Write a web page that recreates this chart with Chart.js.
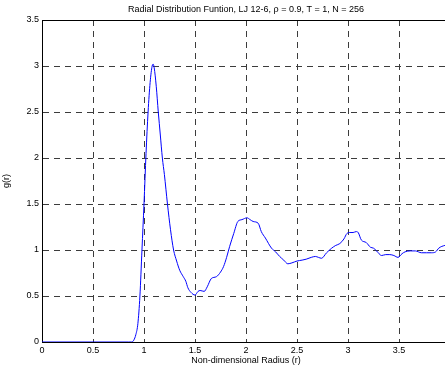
<!DOCTYPE html>
<html>
<head>
<meta charset="utf-8">
<script src="https://cdn.jsdelivr.net/npm/chart.js@4/dist/chart.umd.min.js"></script>
<style>
  html, body { margin: 0; padding: 0; background: #fff; overflow: hidden; }
  #wrap { width: 445px; height: 369px; overflow: hidden; }
</style>
</head>
<body>
<div id="wrap"><canvas id="rdf" width="450" height="369"></canvas></div>
<script>
const radius = [
  0, 0.85, 0.88, 0.90, 0.92, 0.94, 0.96, 0.98, 1.00, 1.02, 1.04, 1.06, 1.08, 1.09,
  1.10, 1.12, 1.14, 1.16, 1.18, 1.20, 1.23, 1.26, 1.29, 1.32, 1.35, 1.385, 1.41,
  1.43, 1.46, 1.50, 1.53, 1.55, 1.59, 1.62, 1.66, 1.71, 1.75, 1.78, 1.81, 1.84,
  1.88, 1.92, 1.96, 2.01, 2.04, 2.07, 2.12, 2.15, 2.19, 2.25, 2.29, 2.33, 2.37,
  2.41, 2.45, 2.50, 2.55, 2.59, 2.64, 2.68, 2.71, 2.74, 2.79, 2.84, 2.88, 2.92,
  2.96, 2.99, 3.02, 3.05, 3.08, 3.10, 3.13, 3.18, 3.22, 3.25, 3.28, 3.33, 3.37,
  3.41, 3.45, 3.49, 3.53, 3.56, 3.61, 3.66, 3.72, 3.77, 3.82, 3.86, 3.89, 3.95, 4.0
];
const gValues = [
  0, 0, 0, 0.02, 0.08, 0.2, 0.5, 1.0, 1.5, 2.05, 2.5, 2.82, 3.0, 3.02,
  2.98, 2.78, 2.5, 2.25, 2.0, 1.82, 1.5, 1.22, 1.0, 0.88, 0.78, 0.71, 0.66,
  0.59, 0.54, 0.51, 0.55, 0.56, 0.55, 0.6, 0.69, 0.71, 0.76, 0.82, 0.92, 1.04,
  1.18, 1.31, 1.33, 1.35, 1.33, 1.31, 1.29, 1.2, 1.13, 1.02, 0.98, 0.93, 0.89,
  0.85, 0.86, 0.88, 0.89, 0.90, 0.92, 0.93, 0.92, 0.91, 0.97, 1.02, 1.05, 1.07,
  1.12, 1.18, 1.19, 1.19, 1.20, 1.19, 1.11, 1.08, 1.03, 1.02, 0.99, 0.94, 0.95,
  0.95, 0.94, 0.92, 0.96, 0.98, 0.99, 0.99, 0.97, 0.97, 0.97, 0.98, 1.02, 1.05, 1.06
];
const xTicks = [0, 0.5, 1, 1.5, 2, 2.5, 3, 3.5];
const yTicks = [0, 0.5, 1, 1.5, 2, 2.5, 3, 3.5];

const font = { family: "'Liberation Sans', Arial, sans-serif", size: 9 };
const gridColor = (ctx) => (ctx.tick && (ctx.tick.value === 0 || ctx.tick.value === 3.5) && ctx.scale.axis === 'y') ||
  (ctx.tick && ctx.tick.value === 0 && ctx.scale.axis === 'x') ? 'rgba(0,0,0,0)' : '#3c3c3c';

new Chart(document.getElementById('rdf'), {
  type: 'line',
  data: {
    datasets: [{
      data: radius.map((r, i) => ({ x: r, y: gValues[i] })),
      borderColor: '#0000ff',
      borderWidth: 1,
      pointRadius: 0,
      tension: 0,
      cubicInterpolationMode: 'monotone',
      fill: false
    }]
  },
  options: {
    responsive: false,
    animation: false,
    layout: { padding: 0 },
    plugins: {
      legend: { display: false },
      tooltip: { enabled: false },
      title: {
        display: true,
        fullSize: false,
        text: 'Radial Distribution Funtion, LJ 12-6, \u03c1 = 0.9, T = 1, N = 256',
        color: '#000',
        font: { ...font, weight: 'normal' },
        padding: { top: 4, bottom: 5.2 }
      }
    },
    scales: {
      x: {
        type: 'linear',
        min: 0,
        max: 4,
        afterBuildTicks: (s) => { s.ticks = xTicks.map(v => ({ value: v })); },
        afterFit: (s) => { s.height = 27; },
        ticks: { color: '#000', font, padding: 3, maxRotation: 0, callback: (v) => String(v) },
        grid: { color: gridColor, lineWidth: 1, drawTicks: false },
        border: { color: '#000', width: 1, dash: [6, 5] },
        title: { display: true, text: 'Non-dimensional Radius (r)', color: '#000', font, padding: { top: 0, bottom: 2.6 } }
      },
      x2: {
        type: 'linear',
        position: 'top',
        min: 0,
        max: 4,
        z: 1,
        ticks: { display: false },
        grid: { drawOnChartArea: false, drawTicks: false },
        border: { color: '#000', width: 1 }
      },
      y: {
        min: 0,
        max: 3.5,
        afterBuildTicks: (s) => { s.ticks = yTicks.map(v => ({ value: v })); },
        afterFit: (s) => { s.width = 42; },
        ticks: { color: '#000', font, padding: 3, callback: (v) => String(v) },
        grid: { color: gridColor, lineWidth: 1, drawTicks: false },
        border: { color: '#000', width: 1, dash: [6, 5] },
        title: { display: true, text: 'g(r)', color: '#000', font, padding: { top: 1.6, bottom: 0 } }
      }
    }
  }
});
</script>
</body>
</html>
